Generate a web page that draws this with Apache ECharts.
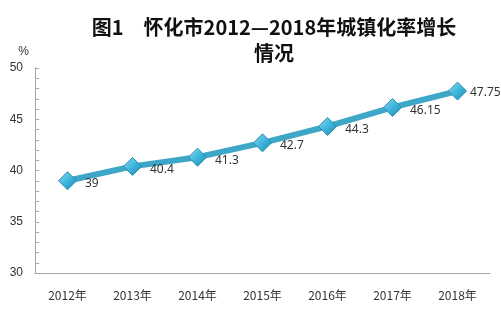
<!DOCTYPE html>
<html><head><meta charset="utf-8">
<script src="https://cdn.jsdelivr.net/npm/echarts@6/dist/echarts.min.js"></script>
<style>html,body{margin:0;padding:0;background:#fff}#c{width:501px;height:317px}</style>
</head><body><div id="c"></div>
<script>
const categories = ['2012年','2013年','2014年','2015年','2016年','2017年','2018年'];
const values = [39, 40.4, 41.3, 42.7, 44.3, 46.15, 47.75];
const yTicks = {min: 30, max: 50, interval: 1, labelStep: 5};
const titleText = '图1　怀化市2012—2018年城镇化率增长\n情况';
const unit = '%';

const seriesData = values.map((v, i) => i === values.length - 1
  ? {value: v, label: {offset: [-2, 2]}}
  : {value: v});

const chart = echarts.init(document.getElementById('c'), null, {renderer: 'canvas'});
chart.setOption({
  animation: false,
  backgroundColor: '#fff',
  title: {
    text: titleText, left: 269, top: 9, textAlign: 'center',
    textStyle: {fontSize: 20, fontWeight: 'bold', color: '#111', lineHeight: 26, fontFamily: 'Noto Sans CJK SC'}
  },
  grid: {left: 35, right: 11, top: 68, bottom: 44},
  xAxis: {
    type: 'category', data: categories, boundaryGap: true,
    axisLine: {lineStyle: {color: '#a6a6a6', width: 1}},
    axisTick: {inside: true, length: 5, lineStyle: {color: '#a6a6a6'}},
    axisLabel: {color: '#333', fontSize: 12, margin: 16, fontFamily: 'Noto Sans CJK SC'},
    splitLine: {show: false}
  },
  yAxis: {
    type: 'value', min: yTicks.min, max: yTicks.max, interval: yTicks.interval,
    name: unit, nameLocation: 'end', nameGap: 10,
    nameTextStyle: {color: '#333', fontSize: 12, align: 'right', padding: [0, 6, 0, 0]},
    axisLine: {show: true, lineStyle: {color: '#a6a6a6', width: 1}},
    axisTick: {show: true, inside: true, length: 4, lineStyle: {color: '#a6a6a6'}},
    axisLabel: {color: '#333', fontSize: 12, margin: 12, showMinLabel: true, showMaxLabel: true,
      formatter: v => (v % yTicks.labelStep === 0 ? String(v) : '')},
    splitLine: {show: false}
  },
  series: [{
    type: 'line', data: seriesData,
    symbol: 'diamond', symbolSize: 18,
    lineStyle: {color: '#3ea6c6', width: 6},
    itemStyle: {
      color: new echarts.graphic.LinearGradient(0, 0, 1, 1, [
        {offset: 0, color: '#8fdaf2'}, {offset: 0.5, color: '#3fb6dc'}, {offset: 1, color: '#1f86aa'}
      ]),
      borderColor: '#2a8fb0', borderWidth: 1
    },
    label: {show: true, position: 'right', offset: [3, 3], color: '#333', fontSize: 12, fontFamily: 'Noto Sans'}
  }]
});
</script></body></html>
